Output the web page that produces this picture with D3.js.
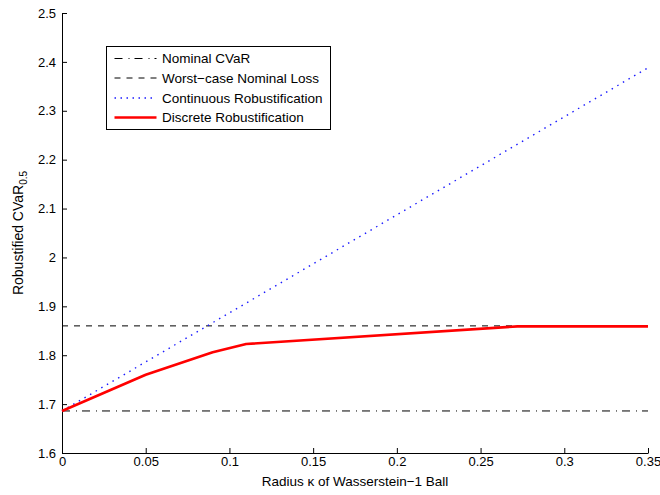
<!DOCTYPE html>
<html>
<head>
<meta charset="utf-8">
<script src="https://cdn.jsdelivr.net/npm/d3@7"></script>
<style>
  body { margin: 0; background: #fff; }
  text { font-family: "Liberation Sans", Arial, sans-serif; }
</style>
</head>
<body>
<svg id="chart" width="660" height="495"></svg>
<script>
// data
const xTicks = [0, 0.05, 0.1, 0.15, 0.2, 0.25, 0.3, 0.35];
const yTicks = [1.6, 1.7, 1.8, 1.9, 2.0, 2.1, 2.2, 2.3, 2.4, 2.5];
const nominalCVaR = 1.686;
const worstCaseLoss = 1.86;
const continuousX = [0, 0.35];
const continuousY = [1.686, 2.388];
const discreteX = [0, 0.05, 0.09, 0.11, 0.272, 0.35];
const discreteY = [1.686, 1.760, 1.806, 1.823, 1.859, 1.859];
const legendLabels = ["Nominal CVaR", "Worst\u2212case Nominal Loss", "Continuous Robustification", "Discrete Robustification"];

const margin = { top: 13, left: 62, bottom: 42, right: 12 };
const width = 660, height = 495;
const innerwidth = width - margin.left - margin.right;
const innerheight = height - margin.top - margin.bottom;

const svg = d3.select('#chart');
const canvas = svg.append('g')
    .attr('transform', `translate(${margin.left},${margin.top})`);

const xScale = d3.scaleLinear().domain([0, 0.35]).range([0, innerwidth]);
const yScale = d3.scaleLinear().domain([1.6, 2.5]).range([innerheight, 0]);

const fmt = d => String(+d.toFixed(2));

// axes, ticks pointing inward
const xAxisGroup = canvas.append('g')
    .attr('transform', `translate(0,${innerheight})`)
    .call(d3.axisBottom(xScale).tickValues(xTicks).tickFormat(fmt)
        .tickSizeInner(-5).tickSizeOuter(0).tickPadding(4));
const yAxisGroup = canvas.append('g')
    .call(d3.axisLeft(yScale).tickValues(yTicks).tickFormat(fmt)
        .tickSizeInner(-5).tickSizeOuter(0).tickPadding(6));

[xAxisGroup, yAxisGroup].forEach(g => {
    g.selectAll('text').attr('font-size', '13px').attr('fill', '#000')
        .attr('font-family', '"Liberation Sans", Arial, sans-serif');
    g.selectAll('line').attr('stroke', '#000');
    g.select('.domain').attr('stroke', '#000');
});

// lines
const line = d3.line().x(d => xScale(d[0])).y(d => yScale(d[1]));

canvas.append('path')
    .attr('d', line([[0, nominalCVaR], [0.35, nominalCVaR]]))
    .attr('fill', 'none').attr('stroke', '#000').attr('stroke-width', 1)
    .attr('stroke-dasharray', '8,6,1,5');

canvas.append('path')
    .attr('d', line([[0, worstCaseLoss], [0.35, worstCaseLoss]]))
    .attr('fill', 'none').attr('stroke', '#000').attr('stroke-width', 1)
    .attr('stroke-dasharray', '6,6');

canvas.append('path')
    .attr('d', line(continuousX.map((x, i) => [x, continuousY[i]])))
    .attr('fill', 'none').attr('stroke', '#1a1aff').attr('stroke-width', 1.4)
    .attr('stroke-dasharray', '1.5,5');

canvas.append('path')
    .attr('d', line(discreteX.map((x, i) => [x, discreteY[i]])))
    .attr('fill', 'none').attr('stroke', '#ff0000').attr('stroke-width', 2.6)
    .attr('stroke-linejoin', 'round');

// axis labels
svg.append('text')
    .attr('x', margin.left + innerwidth / 2)
    .attr('y', 486)
    .attr('text-anchor', 'middle')
    .attr('font-size', '13.5px')
    .text('Radius \u03ba of Wasserstein\u22121 Ball');

const yLabel = svg.append('text')
    .attr('transform', `translate(23,${margin.top + innerheight / 2}) rotate(-90)`)
    .attr('text-anchor', 'middle')
    .attr('font-size', '14px');
yLabel.append('tspan').text('Robustified CVaR');
yLabel.append('tspan').attr('font-size', '10px').attr('dy', 4).text('0.5');

// legend
const legend = svg.append('g').attr('transform', 'translate(106.5,46.5)');
legend.append('rect')
    .attr('width', 224).attr('height', 83)
    .attr('fill', '#fff').attr('stroke', '#000').attr('stroke-width', 1);

const legendStyles = [
    { stroke: '#000', dash: '8,6,1,5', w: 1 },
    { stroke: '#000', dash: '6,6', w: 1 },
    { stroke: '#1a1aff', dash: '1.5,4.5', w: 1.4 },
    { stroke: '#ff0000', dash: null, w: 2.6 }
];
const rowY = [12, 31.5, 51.5, 71];

legendLabels.forEach((lab, i) => {
    const s = legendStyles[i];
    legend.append('line')
        .attr('x1', 8).attr('x2', 50)
        .attr('y1', rowY[i]).attr('y2', rowY[i])
        .attr('stroke', s.stroke).attr('stroke-width', s.w)
        .attr('stroke-dasharray', s.dash);
    legend.append('text')
        .attr('x', 55.5).attr('y', rowY[i])
        .attr('dy', '0.36em')
        .attr('font-size', '13.5px')
        .text(lab);
});
</script>
</body>
</html>
